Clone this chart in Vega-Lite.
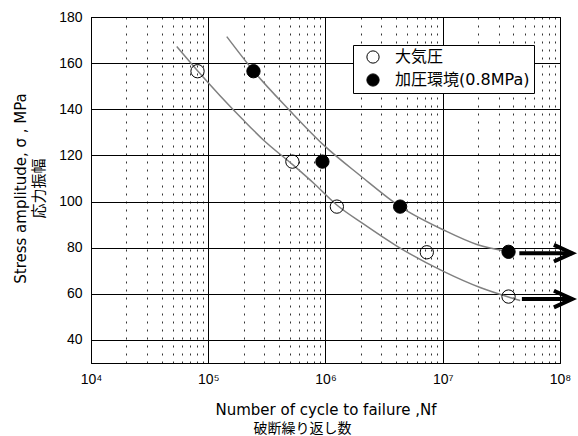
{
  "$schema": "https://vega.github.io/schema/vega-lite/v6.json",
  "autosize": {"type": "none"},
  "width": 469,
  "height": 346,
  "padding": {"left": 91, "top": 17, "right": 18, "bottom": 73},
  "background": "white",
  "config": {
    "view": {"stroke": "#000", "strokeWidth": 1},
    "font": "DejaVu Sans, Noto Sans CJK JP"
  },
  "title": {
    "text": "破断繰り返し数",
    "orient": "bottom",
    "anchor": "middle",
    "dx": -23,
    "offset": 5,
    "font": "Noto Sans CJK JP",
    "fontSize": 14,
    "fontWeight": "normal",
    "color": "#000"
  },
  "datasets": {
    "curves": [
      {"N": 53850, "S": 167.2, "series": "open"},
      {"N": 81360, "S": 156.6, "series": "open"},
      {"N": 126100, "S": 145.9, "series": "open"},
      {"N": 194300, "S": 135.9, "series": "open"},
      {"N": 295200, "S": 126.7, "series": "open"},
      {"N": 521900, "S": 116.1, "series": "open"},
      {"N": 815300, "S": 107.4, "series": "open"},
      {"N": 1248900, "S": 98.5, "series": "open"},
      {"N": 2106000, "S": 90.3, "series": "open"},
      {"N": 4059000, "S": 80.7, "series": "open"},
      {"N": 10139000, "S": 69.7, "series": "open"},
      {"N": 20850000, "S": 62.7, "series": "open"},
      {"N": 36360000, "S": 58.6, "series": "open"},
      {"N": 45750000, "S": 57.1, "series": "open"},
      {"N": 143800, "S": 171.5, "series": "filled"},
      {"N": 242600, "S": 156.7, "series": "filled"},
      {"N": 498900, "S": 139.3, "series": "filled"},
      {"N": 992200, "S": 123.9, "series": "filled"},
      {"N": 1973000, "S": 111.3, "series": "filled"},
      {"N": 4329000, "S": 97.8, "series": "filled"},
      {"N": 10139000, "S": 87.7, "series": "filled"},
      {"N": 19550000, "S": 81.4, "series": "filled"},
      {"N": 36360000, "S": 78.3, "series": "filled"}
    ],
    "points": [
      {"N": 81000, "S": 156.5, "cond": "大気圧"},
      {"N": 522000, "S": 117.3, "cond": "大気圧"},
      {"N": 1250000, "S": 97.8, "cond": "大気圧"},
      {"N": 7310000, "S": 78.0, "cond": "大気圧"},
      {"N": 36400000, "S": 58.8, "cond": "大気圧"},
      {"N": 243000, "S": 156.5, "cond": "加圧環境(0.8MPa)"},
      {"N": 941000, "S": 117.3, "cond": "加圧環境(0.8MPa)"},
      {"N": 4330000, "S": 97.8, "cond": "加圧環境(0.8MPa)"},
      {"N": 36400000, "S": 78.2, "cond": "加圧環境(0.8MPa)"}
    ],
    "arrows": [
      {"N0": 45000000, "N1": 127000000, "S": 77.6},
      {"N0": 47300000, "N1": 127000000, "S": 57.7}
    ]
  },
  "layer": [
    {
      "data": {"name": "curves"},
      "mark": {"type": "line", "color": "#808080", "strokeWidth": 1.5, "interpolate": "monotone"},
      "encoding": {
        "x": {
          "field": "N", "type": "quantitative",
          "scale": {"type": "log", "domain": [10000, 100000000], "nice": false},
          "axis": {
            "values": [10000, 20000, 30000, 40000, 50000, 60000, 70000, 80000, 90000,
                       100000, 200000, 300000, 400000, 500000, 600000, 700000, 800000, 900000,
                       1000000, 2000000, 3000000, 4000000, 5000000, 6000000, 7000000, 8000000, 9000000,
                       10000000, 20000000, 30000000, 40000000, 50000000, 60000000, 70000000, 80000000, 90000000,
                       100000000],
            "grid": true,
            "gridColor": {"condition": {"test": "abs(log(datum.value)/LN10 - round(log(datum.value)/LN10)) < 0.001", "value": "#000"}, "value": "#333"},
            "gridDash": {"condition": {"test": "abs(log(datum.value)/LN10 - round(log(datum.value)/LN10)) < 0.001", "value": []}, "value": [2, 6]},
            "gridWidth": 1,
            "ticks": false,
            "domainColor": "#000",
            "labelExpr": "abs(log(datum.value)/LN10 - round(log(datum.value)/LN10)) < 0.001 ? '10' + ['⁰','¹','²','³','⁴','⁵','⁶','⁷','⁸'][round(log(datum.value)/LN10)] : ''",
            "labelOverlap": false,
            "labelFlush": false,
            "labelFont": "Liberation Sans",
            "labelFontSize": 14,
            "labelColor": "#000",
            "labelPadding": 9,
            "title": "Number of cycle to failure ,Nf",
            "titleFont": "DejaVu Sans",
            "titleFontSize": 15,
            "titleFontWeight": "normal",
            "titleColor": "#000",
            "titleX": 234.5,
            "titleY": 51,
            "titleAlign": "center",
            "titleBaseline": "alphabetic"
          }
        },
        "y": {
          "field": "S", "type": "quantitative",
          "scale": {"domain": [30, 180], "nice": false, "zero": false},
          "axis": {
            "values": [40, 50, 60, 70, 80, 90, 100, 110, 120, 130, 140, 150, 160, 170, 180],
            "grid": true,
            "gridColor": "#000",
            "gridOpacity": {"condition": {"test": "datum.value % 20 == 0", "value": 1}, "value": 0},
            "ticks": true,
            "tickSize": -4,
            "tickColor": "#000",
            "domainColor": "#000",
            "labelExpr": "datum.value % 20 == 0 ? datum.label : ''",
            "labelFont": "Liberation Sans",
            "labelFontSize": 14,
            "labelColor": "#000",
            "labelPadding": 13,
            "title": ["Stress amplitude, σ , MPa", "応力振幅"],
            "titleFont": "DejaVu Sans, Noto Sans CJK JP",
            "titleFontSize": 15,
            "titleFontWeight": "normal",
            "titleColor": "#000",
            "titleLineHeight": 18,
            "titleAngle": -90,
            "titleX": -71,
            "titleY": 171,
            "titleAlign": "center",
            "titleBaseline": "middle"
          }
        },
        "detail": {"field": "series"}
      }
    },
    {
      "data": {"name": "points"},
      "mark": {"type": "point", "shape": "circle", "filled": true, "stroke": "#000", "strokeWidth": 1, "size": 177, "opacity": 1},
      "encoding": {
        "x": {"field": "N", "type": "quantitative"},
        "y": {"field": "S", "type": "quantitative"},
        "fill": {
          "field": "cond", "type": "nominal",
          "scale": {"domain": ["大気圧", "加圧環境(0.8MPa)"], "range": ["transparent", "#000"]},
          "legend": {
            "orient": "none",
            "legendX": 262,
            "legendY": 28,
            "title": null,
            "strokeColor": "#000",
            "fillColor": "white",
            "padding": 4,
            "labelFont": "DejaVu Sans, Noto Sans CJK JP",
            "labelFontSize": 16,
            "labelColor": "#000",
            "symbolType": "circle",
            "symbolSize": 150,
            "symbolStrokeColor": "#000",
            "symbolStrokeWidth": 1,
            "symbolOffset": 8,
            "labelOffset": 14,
            "rowPadding": 5
          }
        }
      }
    },
    {
      "data": {"name": "arrows"},
      "mark": {"type": "rule", "color": "#000", "strokeWidth": 4},
      "encoding": {
        "x": {"field": "N0", "type": "quantitative"},
        "x2": {"field": "N1"},
        "y": {"field": "S", "type": "quantitative"}
      }
    },
    {
      "data": {"name": "arrows"},
      "mark": {"type": "point", "shape": "M -2.2 -1 L 0 0 L -2.2 1", "filled": false, "stroke": "#000", "strokeWidth": 4, "size": 276, "opacity": 1, "strokeJoin": "miter"},
      "encoding": {
        "x": {"field": "N1", "type": "quantitative"},
        "y": {"field": "S", "type": "quantitative"}
      }
    }
  ]
}
